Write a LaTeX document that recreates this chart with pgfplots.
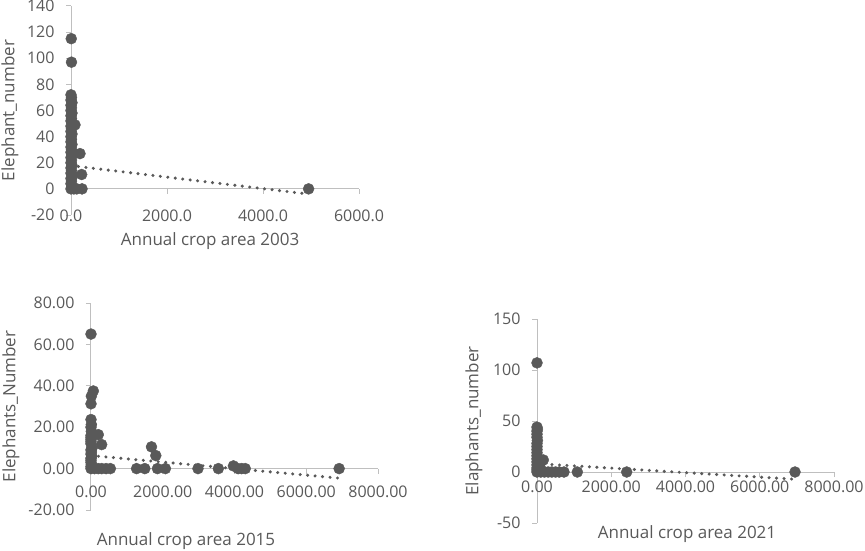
\documentclass[border=0pt]{standalone}
\usepackage{fontspec}
\setmainfont{Open Sans}
\usepackage{pgfplots}
\pgfplotsset{compat=1.18}
\definecolor{mk}{HTML}{595959}
\definecolor{axc}{HTML}{BFBFBF}
\definecolor{txt}{HTML}{595959}
\pgfplotsset{excel/.style={
  scale only axis,
  axis x line=middle, axis y line=left,
  axis line style={draw=axc, line width=1pt, -},
  tick style={draw=axc, line width=1pt},
  tick align=outside,
  major tick length=5pt,
  hide obscured x ticks=false, hide obscured y ticks=false,
  ticklabel style={font=\fontsize{16}{18}\selectfont, text=txt},
  y tick label style={xshift=-8pt},
  label style={font=\fontsize{17}{20}\selectfont, text=txt},
  /pgf/number format/assume math mode=true,
  /pgf/number format/1000 sep={},
  clip=false,
  },
  pts/.style={only marks, mark=*, mark size=5.5pt, mark options={fill=mk, draw=mk}},
  trend/.style={no marks, draw=mk, line width=3.4pt, line cap=round, dash pattern=on 0pt off 7.5pt},
  dec/.style={/pgf/number format/fixed, /pgf/number format/fixed zerofill, /pgf/number format/precision=#1},
}
\begin{document}
\begin{tikzpicture}
\useasboundingbox (0pt,0pt) rectangle (865pt,550pt);
% ---------- 2003 ----------
\begin{axis}[excel, at={(71pt,335pt)}, anchor=south west, width=288pt, height=209pt,
  xmin=0, xmax=6000, ymin=-20, ymax=140,
  xtick={0,2000,4000,6000}, ytick={-20,0,20,...,140},
  x tick label style={yshift=-12pt, dec=1},
  xlabel={Annual crop area 2003}, ylabel={Elephant\_number},
  xlabel style={at={(axis description cs:0.483,-0.124)}, anchor=center},
  ylabel style={at={(axis description cs:-0.212,0.5)}, anchor=center, rotate=0},
  ]
\addplot[pts] coordinates {
(5,115) (10,97)
(0,72) (10,70) (0,68) (20,66) (0,64) (10,62) (0,60) (20,58) (0,56) (10,54) (0,52) (30,50)
(0,48) (10,46) (0,44) (20,42) (0,40) (10,38) (0,36) (20,34) (0,32) (10,30) (0,28) (20,26)
(0,24) (10,22) (0,20) (20,18) (0,16) (10,14) (0,12) (30,10) (0,8) (10,6) (0,4) (20,2) (0,0) (60,0) (120,0)
(83,49) (187,27) (222,11) (230,0) (4950,0)
};
\addplot[trend] coordinates {(0,17.8) (4950,-4)};
\end{axis}
% ---------- 2015 ----------
\begin{axis}[excel, at={(91pt,40pt)}, anchor=south west, width=287pt, height=207pt,
  xmin=0, xmax=8000, ymin=-20, ymax=80,
  xtick={0,2000,4000,6000,8000}, ytick={-20,0,20,...,80},
  x tick label style={yshift=-9pt, dec=2},
  y tick label style={dec=2},
  xlabel={Annual crop area 2015}, ylabel={Elephants\_Number},
  xlabel style={at={(axis description cs:0.331,-0.15)}, anchor=center},
  ylabel style={at={(axis description cs:-0.279,0.5)}, anchor=center},
  ]
\addplot[pts] coordinates {
(0,65) (65,37.5) (10,35) (0,31.3) (0,23.7) (10,21.3) (0,20) (10,18) (0,16) (203,16.4) (0,15) (0,14)
(0,13) (297,11.6) (0,12) (30,10) (0,9) (10,8) (0,7) (20,6) (0,5) (0,4) (0,3) (10,2) (0,1) (0,0)
(100,0) (200,0) (300,0) (420,0) (540,0) (1270,0) (1500,0) (1686,10.5) (1806,6.3) (1852,0) (2074,0)
(2982,0) (3550,0) (3970,1.3) (4100,0) (4200,0) (4300,0) (6917,0)
};
\addplot[trend] coordinates {(0,6.3) (6917,-4.6)};
\end{axis}
% ---------- 2021 ----------
\begin{axis}[excel, at={(537pt,27pt)}, anchor=south west, width=297pt, height=204pt,
  xmin=0, xmax=8000, ymin=-50, ymax=150,
  xtick={0,2000,4000,6000,8000}, ytick={-50,0,50,100,150},
  x tick label style={dec=2},
  xlabel={Annual crop area 2021}, ylabel={Elaphants\_number},
  xlabel style={at={(axis description cs:0.505,-0.054)}, anchor=center},
  ylabel style={at={(axis description cs:-0.212,0.5)}, anchor=center},
  ]
\addplot[pts] coordinates {
(0,107) (0,44) (10,42) (0,40) (0,37) (0,34) (10,31) (0,28) (0,25) (0,22) (0,19) (0,16) (0,13)
(170,11.8) (0,10) (0,7) (60,5) (0,4) (100,3) (0,2) (0,0)
(100,0) (200,0) (300,0) (400,0) (500,0) (600,0) (727,0) (1086,0) (2416,0) (6950,0)
};
\addplot[trend] coordinates {(0,8.2) (6950,-7.1)};
\end{axis}
\end{tikzpicture}
\end{document}
